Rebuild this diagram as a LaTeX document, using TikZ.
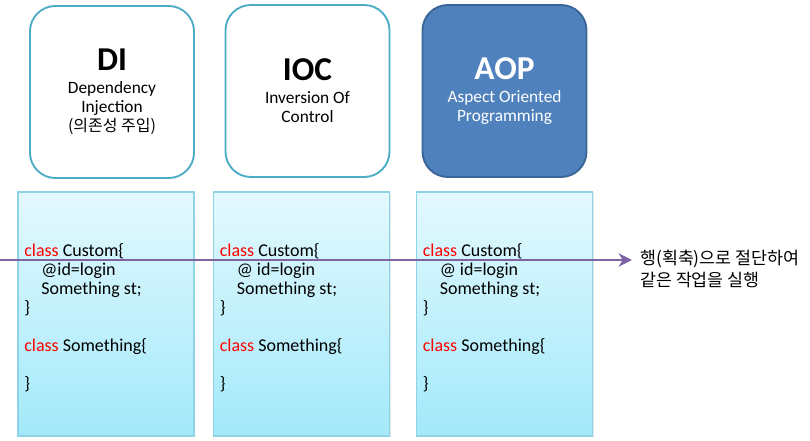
\documentclass[tikz,border=0pt]{standalone}
\usepackage{fontspec}
\setmainfont{Carlito}
\newfontfamily\krfont{Noto Sans CJK KR}
\usepackage{xcolor}
\usepackage{tikz}
\usetikzlibrary{positioning}
\usetikzlibrary{arrows.meta,shadows}
\definecolor{conceptline}{HTML}{4BACC6}
\definecolor{aopfill}{HTML}{4F81BD}
\definecolor{aopline}{HTML}{3A6597}
\definecolor{codeline}{HTML}{8FD3E6}
\definecolor{codetop}{HTML}{E3F9FE}
\definecolor{codebottom}{HTML}{A3E9FA}
\definecolor{cutcolor}{HTML}{7F64A3}
\definecolor{keyword}{HTML}{FF0000}
\newcommand{\kw}[1]{\textcolor{keyword}{#1}}
\newcommand{\codeindent}{\hspace*{12.75pt}}
\newcommand{\bigtitle}{\fontsize{25}{28}\selectfont\bfseries}
\tikzset{
  concept/.style = {draw=conceptline, line width=1.4pt, rounded corners=19pt,
    fill=white, minimum width=123pt, minimum height=129pt,
    align=center, inner sep=0pt, font=\fontsize{13}{14.25}\selectfont},
  aop/.style = {concept, draw=aopline, fill=aopfill, text=white},
  codebox/.style = {draw=codeline, line width=0.9pt, top color=codetop,
    bottom color=codebottom, minimum width=132pt, minimum height=183pt,
    inner sep=0pt, drop shadow={opacity=0.2, shadow xshift=1pt,
    shadow yshift=-1pt}},
  code/.style = {align=left, inner sep=0pt, anchor=north west,
    font=\fontsize{13.5}{14.25}\selectfont},
  cutline/.style = {draw=cutcolor, line width=2.2pt,
    -{Stealth[length=10pt,width=10pt,inset=3pt]}, shorten >=6pt},
  note/.style = {align=left, inner sep=0pt, anchor=west,
    font=\krfont\fontsize{13}{16.5}\selectfont}
}
\begin{document}
\begin{tikzpicture}[x=0.75pt,y=-0.75pt]
\useasboundingbox (0,0) rectangle (810,441);
% concepts
\node [concept] (di) at (112,92) {\bigtitle DI\\[3pt]
  Dependency\\Injection\\{\krfont\fontsize{12}{14.25}\selectfont(의존성 주입)}};
\node [concept] (ioc) at (307.5,91) {\bigtitle IOC\\[3pt]
  Inversion Of\\Control};
\node [aop] (aop) at (504.5,91) {\bigtitle AOP\\[3pt]
  Aspect Oriented\\Programming};
% code boxes
\node [codebox] (dicode) at (106,314) {};
\node [codebox] (ioccode) at (301.5,314) {};
\node [codebox] (aopcode) at (504.5,314) {};
\node [code] (ditext) at ([xshift=5pt,yshift=-38.5pt]dicode.north west)
  {\kw{class} Custom\{\\ \codeindent @id=login\\ \codeindent Something st;\\ \}\\[14.25pt]
   \kw{class} Something\{\\[14.25pt] \}};
\node [code] (ioctext) at ([xshift=5pt,yshift=-38.5pt]ioccode.north west)
  {\kw{class} Custom\{\\ \codeindent @ id=login\\ \codeindent Something st;\\ \}\\[14.25pt]
   \kw{class} Something\{\\[14.25pt] \}};
\node [code] (aoptext) at ([xshift=5pt,yshift=-38.5pt]aopcode.north west)
  {\kw{class} Custom\{\\ \codeindent @ id=login\\ \codeindent Something st;\\ \}\\[14.25pt]
   \kw{class} Something\{\\[14.25pt] \}};
% cross-cutting
\coordinate (cutstart) at (0,260);
\node [note] (cutnote) at (640,269) {행(획축)으로 절단하여\\같은 작업을 실행};
\draw [cutline] (cutstart) -- (cutstart -| cutnote.west);
\end{tikzpicture}
\end{document}
